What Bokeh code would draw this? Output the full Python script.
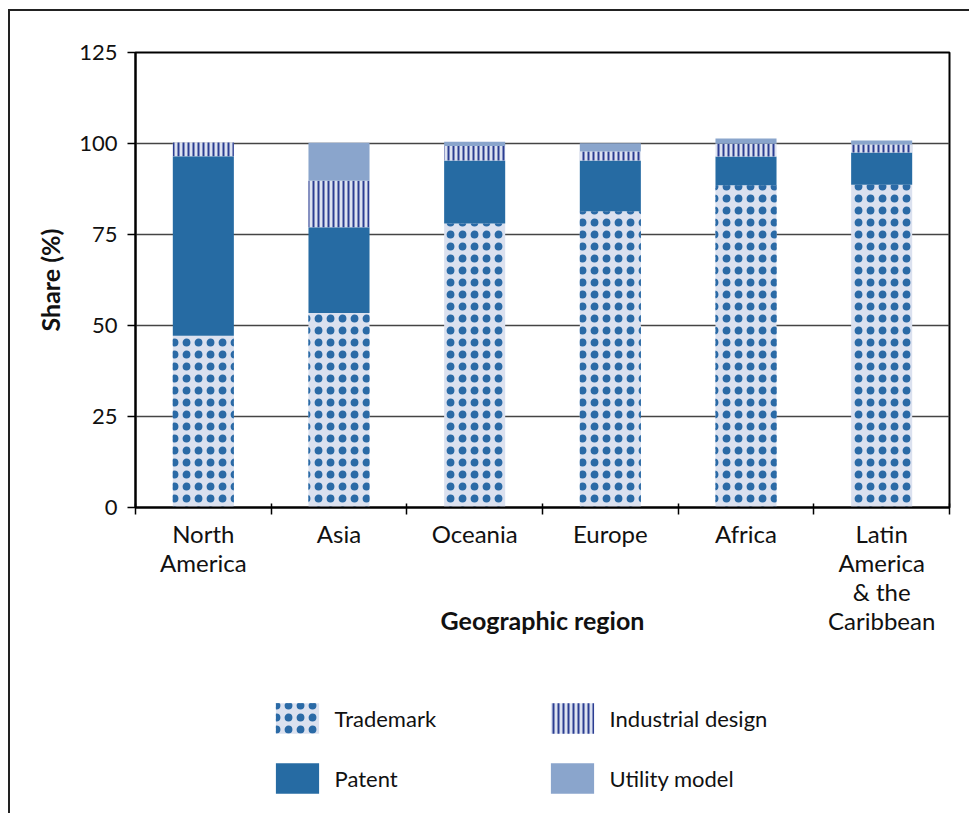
from bokeh.plotting import figure
from bokeh.models import (Range1d, FixedTicker, Legend, LegendItem,
                          ColumnDataSource, InlineStyleSheet)
from bokeh.layouts import column
from bokeh.transform import stack
from bokeh.embed import file_html
from bokeh.resources import INLINE

# ---- data ----
regions = ["North\nAmerica", "Asia", "Oceania", "Europe", "Africa",
           "Latin\nAmerica\n& the\nCaribbean"]
trademark = [47.2, 53.4, 78.0, 81.4, 88.5, 88.7]
patent = [49.3, 23.6, 17.3, 13.9, 7.9, 8.8]
industrial = [3.8, 12.8, 4.0, 2.5, 3.5, 2.2]
utility = [0.0, 10.4, 1.2, 2.3, 1.5, 1.1]
series_keys = ["trademark", "patent", "industrial", "utility"]
series_names = ["Trademark", "Patent", "Industrial design", "Utility model"]
y_ticks = [0, 25, 50, 75, 100, 125]

FONT = "Lato"
TXT = "#111111"
DOT = "#2a6aa6"

centers = [i + 0.5 for i in range(len(regions))]
bounds = list(range(len(regions) + 1))

src = ColumnDataSource(dict(x=centers, trademark=trademark, patent=patent,
                            industrial=industrial, utility=utility))

p = figure(width=969, height=690, output_backend="svg", toolbar_location=None,
           x_range=Range1d(0, len(regions)), y_range=Range1d(0, 125),
           min_border_left=135, min_border_right=20, min_border_top=52,
           min_border_bottom=183)

styles = [
    dict(fill_color="#dbe1ef", hatch_pattern=".", hatch_color=DOT,
         hatch_scale=12, hatch_weight=1),
    dict(fill_color="#266ba3"),
    dict(fill_color="#dce2f0", hatch_pattern="|", hatch_color="#2b3d92",
         hatch_scale=5, hatch_weight=2),
    dict(fill_color="#8aa5cc"),
]
# ring hatch laid over the dot hatch to enlarge the dots
ring_style = dict(fill_alpha=0, hatch_pattern="o", hatch_color=DOT,
                  hatch_scale=12, hatch_weight=1.8)

bar_renderers = []
for i, key in enumerate(series_keys):
    bottom = stack(*series_keys[:i]) if i > 0 else 0
    r = p.vbar(x="x", width=0.45, bottom=bottom,
               top=stack(*series_keys[:i + 1]), source=src,
               line_color=None, **styles[i])
    bar_renderers.append(r)
p.vbar(x="x", width=0.45, bottom=0, top=stack(series_keys[0]), source=src,
       line_color=None, **ring_style)

# axes
p.yaxis.ticker = FixedTicker(ticks=y_ticks)
p.yaxis.major_tick_out = 8
p.yaxis.major_tick_in = 0
p.yaxis.minor_tick_line_color = None
p.yaxis.major_tick_line_color = "black"
p.yaxis.major_tick_line_width = 1.5
p.yaxis.major_label_standoff = 10
p.yaxis.major_label_text_font_size = "22px"
p.yaxis.axis_label = "Share (%)"
p.yaxis.axis_label_standoff = 11

p.xaxis.ticker = FixedTicker(ticks=centers, minor_ticks=bounds)
p.xaxis.major_label_overrides = {c: r for c, r in zip(centers, regions)}
p.xaxis.major_tick_line_color = None
p.xaxis.major_tick_in = 0
p.xaxis.major_tick_out = 0
p.xaxis.minor_tick_in = 4
p.xaxis.minor_tick_out = 7
p.xaxis.minor_tick_line_width = 1.5
p.xaxis.minor_tick_line_color = "black"
p.xaxis.major_label_standoff = 4
p.xaxis.major_label_text_font_size = "24px"
p.xaxis.major_label_text_line_height = 1.0
p.xaxis.axis_label = "Geographic region"
p.xaxis.axis_label_standoff = -33

for ax in (p.xaxis, p.yaxis):
    ax.axis_line_color = "black"
    ax.axis_line_width = 2
    ax.major_label_text_font = FONT
    ax.major_label_text_color = TXT
    ax.axis_label_text_font = FONT
    ax.axis_label_text_font_size = "25px"
    ax.axis_label_text_font_style = "bold"
    ax.axis_label_text_color = TXT

p.xgrid.grid_line_color = None
p.ygrid.ticker = FixedTicker(ticks=y_ticks)
p.ygrid.grid_line_color = "#444444"
p.ygrid.grid_line_width = 1.5

p.outline_line_color = "black"
p.outline_line_width = 2
p.outline_line_alpha = 1

# ---- legend panel (separate strip below the chart) ----
lg = figure(width=969, height=123, output_backend="svg", toolbar_location=None,
            x_range=Range1d(0, 1), y_range=Range1d(0, 1),
            x_axis_location=None, y_axis_location=None,
            min_border=0, outline_line_color=None)
lg.xgrid.grid_line_color = None
lg.ygrid.grid_line_color = None

# zero-height bars that only provide the legend swatches
swatches = [lg.vbar(x=[0.5], bottom=[0], top=[0], width=0.1, line_color=None,
                    **st) for st in styles]
ring_swatch = lg.vbar(x=[0.5], bottom=[0], top=[0], width=0.1,
                      line_color=None, **ring_style)
item_renderers = [[swatches[0], ring_swatch], [swatches[1]], [swatches[2]],
                  [swatches[3]]]

legend = Legend(items=[LegendItem(label=n, renderers=rr)
                       for n, rr in zip(series_names, item_renderers)],
                location=(134.6, 16), orientation="vertical", ncols=2,
                glyph_width=54, glyph_height=38, label_standoff=11,
                label_width=188, label_height=30, spacing=22,
                padding=0, margin=0, border_line_color=None,
                background_fill_alpha=0,
                label_text_font=FONT, label_text_font_size="22px",
                label_text_color=TXT, label_text_baseline="middle")
lg.add_layout(legend, "center")

page = column(p, lg, spacing=0)

# outer frame of the figure (left and top edges visible)
page.stylesheets = [InlineStyleSheet(css="""
:host::after {
  content: "";
  position: absolute;
  left: 8px; top: 9px;
  width: calc(100% - 8px); height: calc(100% - 9px);
  box-sizing: border-box;
  border-left: 2px solid #222;
  border-top: 2px solid #222;
  pointer-events: none;
}
""")]

open("out.html", "w").write(file_html(page, INLINE))
